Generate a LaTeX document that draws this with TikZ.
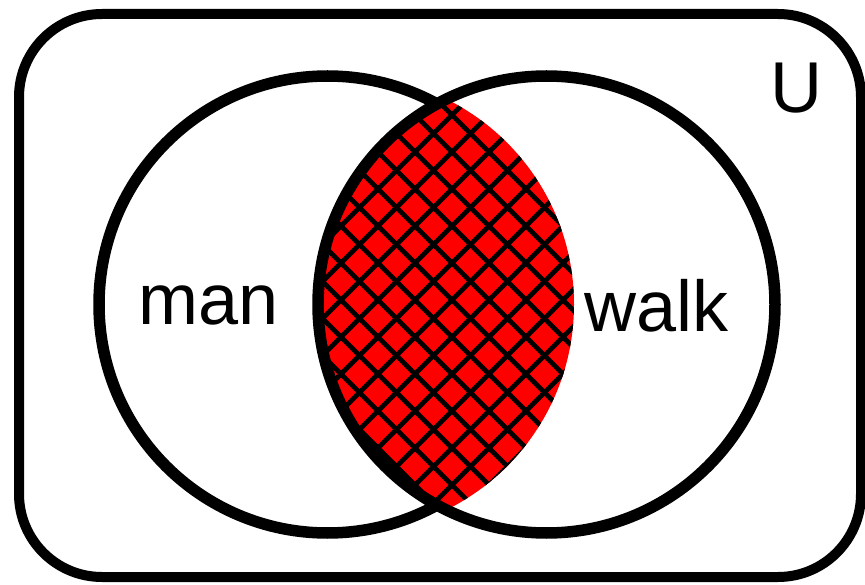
\documentclass[tikz,border=0pt]{standalone}
\usepackage{fontspec}
\setmainfont{Liberation Sans}
\begin{document}
\begin{tikzpicture}[x=1pt,y=-1pt,
  ring/.style={draw=black,line width=11.5pt},
  frame/.style={draw=black,line width=10pt,rounded corners=83pt},
  hatch/.style={draw=black,line width=4.8pt},
  label/.style={inner sep=0pt,anchor=base west,font=\fontsize{72}{72}\selectfont}]
\useasboundingbox (0,0) rectangle (865,585);
\draw[frame] (19,14) rectangle (861,577);
% left circle
\draw[ring] (327.5,304.5) circle[radius=228.5pt];
% intersection lens
\begin{scope}
  \clip (546.5,304.5) circle[radius=228.5pt];
  \clip (345,304.5) circle[radius=229pt];
  \fill[red] (300,80) rectangle (600,530);
  \foreach \k in {-6,...,15} {
    \pgfmathsetmacro{\c}{-33+37*\k}
    \draw[hatch] (80+\c,80) -- (530+\c,530);
  }
  \foreach \m in {-16,...,6} {
    \pgfmathsetmacro{\c}{937+37*\m}
    \draw[hatch] (\c-80,80) -- (\c-530,530);
  }
\end{scope}
% right circle
\draw[ring] (546.5,304.5) circle[radius=228.5pt];
\node[label] (man) at (138,325) {man};
\node[label] (walk) at (584,332) {walk};
\node[label] (U) at (770,113) {U};
\end{tikzpicture}
\end{document}
